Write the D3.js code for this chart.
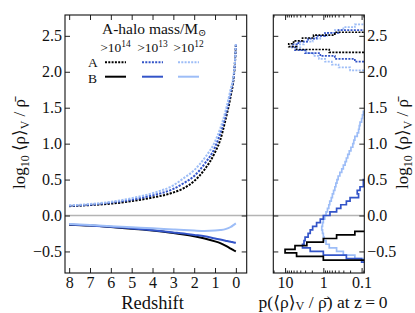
<!DOCTYPE html>
<html><head><meta charset="utf-8">
<script src="https://cdn.jsdelivr.net/npm/d3@7"></script>
<style>
html,body{margin:0;padding:0;background:#fff;}
svg{display:block;font-family:"Liberation Serif","DejaVu Serif",serif;}
</style></head><body>
<svg id="chart" width="415" height="313"></svg>
<script>
// ---------- data ----------
const redshift = [8,7,6,5,4,3,2.5,2,1.5,1,0.75,0.5,0.25,0.1,0.05,0];
// A-halo (dotted)
const aMass14 = [0.13,0.145,0.165,0.20,0.25,0.32,0.38,0.48,0.64,0.88,1.05,1.33,1.66,1.93,2.10,2.37];
const aMass13 = [0.135,0.15,0.18,0.22,0.28,0.37,0.45,0.55,0.72,0.95,1.14,1.39,1.71,1.95,2.11,2.38];
const aMass12 = [0.14,0.16,0.19,0.24,0.31,0.42,0.52,0.63,0.80,1.03,1.21,1.45,1.76,1.97,2.12,2.40];
// B-halo (solid)
const bMass14 = [-0.128,-0.14,-0.16,-0.185,-0.21,-0.245,-0.265,-0.29,-0.32,-0.36,-0.385,-0.42,-0.46,-0.485,-0.493,-0.50];
const bMass13 = [-0.125,-0.14,-0.155,-0.18,-0.205,-0.235,-0.25,-0.27,-0.29,-0.32,-0.335,-0.35,-0.365,-0.375,-0.378,-0.38];
const bMass12 = [-0.118,-0.132,-0.148,-0.163,-0.178,-0.195,-0.203,-0.21,-0.215,-0.21,-0.203,-0.19,-0.16,-0.13,-0.12,-0.11];

// histograms at z=0 : bin start, bin width, densities
const histWidthA = 0.04;
const histStartA14 = 2.27, histStartA13 = 2.14, histStartA12 = 2.02;
const histA14 = [0.7,5,8,6,3.5,1.8,0.5];
const histA13 = [0.15,0.5,1.2,3.0,5.5,6.5,4.5,2.5,1.5,0.9,0.4];
const histA12 = [0.2,0.4,0.6,0.9,1.3,1.8,2.8,4.0,5.0,3.2,1.9,1.2,0.8,0.5,0.3,0.15];
const histWidthB = 0.05;
const histStartB14 = -0.62, histStartB13 = -0.65, histStartB12 = -0.65;
const histB14 = [1.0,5,10,5.5,2.7,1.0,0.45,0.15];
const histB13 = [0.1,0.25,1.0,2.2,3.5,3.2,3.0,2.5,2.2,1.9,1.5,1.2,1.0,0.67,0.45,0.35,0.25,0.2,0.12,0.13,0.11,0.09,0.09];
const histB12 = [0.09,0.15,0.3,0.45,0.7,0.85,0.95,1.0,1.05,1.1,1.05,1.0,0.92,0.85,0.78,0.72,0.68,0.62,0.58,0.54,0.5,0.47,0.44,0.41,0.37,0.33,0.3,0.27,0.25,0.23,0.21,0.19,0.17,0.16,0.15,0.13,0.12,0.115,0.11,0.1,0.095,0.09];

const massExponents = ["14","13","12"];
const seriesColors = ["#000000","#3354c8","#9dbdf7"];
const yTicks = [-0.5,0,0.5,1,1.5,2,2.5];
const zTicks = [8,7,6,5,4,3,2,1,0];
const pTicks = [10,1,0.1];
const pTickLabels = ["10","1","0.1"];

// ---------- layout ----------
const svg = d3.select("#chart");
const L = {x0:65, x1:246.7, y0:15, y1:273};
const R = {x0:273.3, x1:364.3, y0:15, y1:273};

const yS = d3.scaleLinear().domain([-0.8, 2.79]).range([L.y1, L.y0]);
const xL = d3.scaleLinear().domain([8.2, -0.52]).range([L.x0, L.x1]);
const xR = d3.scaleLog().domain([20.3, 0.085]).range([R.x0, R.x1]);

const defs = svg.append("defs");
defs.append("clipPath").attr("id","clipL").append("rect")
  .attr("x",L.x0).attr("y",L.y0).attr("width",L.x1-L.x0).attr("height",L.y1-L.y0);
defs.append("clipPath").attr("id","clipR").append("rect")
  .attr("x",R.x0).attr("y",R.y0).attr("width",R.x1-R.x0).attr("height",R.y1-R.y0);

// zero line
svg.append("line").attr("x1",L.x0).attr("x2",R.x1).attr("y1",yS(0)).attr("y2",yS(0))
  .attr("stroke","#b4b4b4").attr("stroke-width",1.6);

// ---------- left panel curves ----------
const gL = svg.append("g").attr("clip-path","url(#clipL)");
const line = d3.line().x((d,i)=>xL(redshift[i])).y(d=>yS(d)).curve(d3.curveMonotoneX);
const aSeries = [aMass14,aMass13,aMass12];
const bSeries = [bMass14,bMass13,bMass12];
bSeries.forEach((s,k)=>{
  gL.append("path").attr("d",line(s)).attr("fill","none")
    .attr("stroke",seriesColors[k]).attr("stroke-width",2);
});
aSeries.forEach((s,k)=>{
  gL.append("path").attr("d",line(s)).attr("fill","none")
    .attr("stroke",seriesColors[k]).attr("stroke-width",2).attr("stroke-dasharray","2.2,1.3");
});

// ---------- right panel histograms ----------
const gR = svg.append("g").attr("clip-path","url(#clipR)");
function histPath(start, w, vals){
  const xr = R.x1 + 3;
  const px = p => p > 0 ? Math.min(xR(p), xr) : xr;
  const pts = [[xr, yS(start)]];
  vals.forEach((p,i)=>{
    pts.push([px(p), yS(start + i*w)]);
    pts.push([px(p), yS(start + (i+1)*w)]);
  });
  pts.push([xr, yS(start + vals.length*w)]);
  return d3.line()(pts);
}
const histB = [[histStartB14,histB14],[histStartB13,histB13],[histStartB12,histB12]];
const histA = [[histStartA14,histA14],[histStartA13,histA13],[histStartA12,histA12]];
[2,1,0].forEach(k=>{
  gR.append("path").attr("d",histPath(histB[k][0],histWidthB,histB[k][1]))
    .attr("fill","none").attr("stroke",seriesColors[k]).attr("stroke-width",1.7);
});
[2,1,0].forEach(k=>{
  gR.append("path").attr("d",histPath(histA[k][0],histWidthA,histA[k][1]))
    .attr("fill","none").attr("stroke",seriesColors[k]).attr("stroke-width",1.7)
    .attr("stroke-dasharray","2,1.3");
});

// ---------- axes ----------
const fmt = d3.format(".1f");
function styleAxis(g, labels){
  g.select(".domain").remove();
  g.selectAll(".tick line").attr("stroke","#222").attr("stroke-width",1);
  g.selectAll("text").attr("font-size",16).attr("fill","#111")
    .attr("font-family",'"Liberation Serif",serif');
  if(!labels) g.selectAll("text").remove();
}
// left panel
svg.append("g").attr("transform",`translate(${L.x0},0)`)
  .call(d3.axisLeft(yS).tickValues(yTicks).tickSize(-5).tickPadding(3).tickFormat(fmt))
  .call(g=>styleAxis(g,true));
svg.append("g").attr("transform",`translate(${L.x1},0)`)
  .call(d3.axisRight(yS).tickValues(yTicks).tickSize(-5)).call(g=>styleAxis(g,false));
svg.append("g").attr("transform",`translate(0,${L.y1})`)
  .call(d3.axisBottom(xL).tickValues(zTicks).tickSize(-5).tickPadding(4).tickFormat(d3.format("d")))
  .call(g=>styleAxis(g,true));
svg.append("g").attr("transform",`translate(0,${L.y0})`)
  .call(d3.axisTop(xL).tickValues(zTicks).tickSize(-5)).call(g=>styleAxis(g,false));
// right panel
svg.append("g").attr("transform",`translate(${R.x0},0)`)
  .call(d3.axisLeft(yS).tickValues(yTicks).tickSize(-5)).call(g=>styleAxis(g,false));
svg.append("g").attr("transform",`translate(${R.x1},0)`)
  .call(d3.axisRight(yS).tickValues(yTicks).tickSize(-5).tickPadding(3).tickFormat(fmt))
  .call(g=>styleAxis(g,true));
const minorP = [];
[0.01,0.1,1,10].forEach(dec=>{ for(let m=2;m<=9;m++){ const v=m*dec; if(v>0.085 && v<20.3) minorP.push(v);} });
svg.append("g").attr("transform",`translate(0,${R.y1})`)
  .call(d3.axisBottom(xR).tickValues(pTicks).tickSize(-5).tickPadding(4).tickFormat((d,i)=>pTickLabels[i]))
  .call(g=>styleAxis(g,true));
svg.append("g").attr("transform",`translate(0,${R.y1})`)
  .call(d3.axisBottom(xR).tickValues(minorP).tickSize(-2.5)).call(g=>styleAxis(g,false));
svg.append("g").attr("transform",`translate(0,${R.y0})`)
  .call(d3.axisTop(xR).tickValues(pTicks).tickSize(-5)).call(g=>styleAxis(g,false));
svg.append("g").attr("transform",`translate(0,${R.y0})`)
  .call(d3.axisTop(xR).tickValues(minorP).tickSize(-2.5)).call(g=>styleAxis(g,false));

// frames
[L,R].forEach(P=>{
  svg.append("rect").attr("x",P.x0).attr("y",P.y0).attr("width",P.x1-P.x0).attr("height",P.y1-P.y0)
    .attr("fill","none").attr("stroke","#111").attr("stroke-width",1.1);
});

// ---------- axis labels ----------
function densityLabel(t){
  t.append("tspan").text("log");
  t.append("tspan").attr("font-size","70%").attr("dy",4).text("10");
  t.append("tspan").attr("dy",-4).text(" \u27E8\u03C1\u27E9");
  t.append("tspan").attr("font-size","70%").attr("dy",4).text("V");
  t.append("tspan").attr("dy",-4).text(" / \u03C1\u0304");
}
densityLabel(svg.append("text").attr("transform","translate(25,144) rotate(-90)")
  .attr("text-anchor","middle").attr("font-size",17).attr("fill","#111"));
densityLabel(svg.append("text").attr("transform","translate(408,144) rotate(-90)")
  .attr("text-anchor","middle").attr("font-size",17).attr("fill","#111"));

svg.append("text").attr("x",(xL(8)+xL(0))/2).attr("y",308.5).attr("text-anchor","middle")
  .attr("font-size",18.5).attr("fill","#111").text("Redshift");
const xt = svg.append("text").attr("x",323).attr("y",307.5).attr("text-anchor","middle")
  .attr("font-size",17.5).attr("fill","#111");
xt.append("tspan").text("p(\u27E8\u03C1\u27E9");
xt.append("tspan").attr("font-size","70%").attr("dy",2.5).text("V");
xt.append("tspan").attr("dy",-2.5).text(" / \u03C1\u0304) at z\u2009=\u20090");

// ---------- legend ----------
const lg = svg.append("g").attr("fill","#111");
const title = lg.append("text").attr("x",102).attr("y",33.5).attr("font-size",15.5);
title.append("tspan").text("A-halo mass/M");
title.append("tspan").attr("font-size","65%").attr("dy",2).text("\u2299");
const colX = [115.5, 152.5, 188.5];
massExponents.forEach((e,k)=>{
  const t = lg.append("text").attr("x",colX[k]).attr("y",51.5).attr("text-anchor","middle").attr("font-size",13.5);
  t.append("tspan").text(">10");
  t.append("tspan").attr("font-size","70%").attr("dy",-5).text(e);
});
lg.append("text").attr("x",88).attr("y",66.5).attr("font-size",13.5).text("A");
lg.append("text").attr("x",88).attr("y",82.5).attr("font-size",13.5).text("B");
colX.forEach((cx,k)=>{
  lg.append("line").attr("x1",cx-10.5).attr("x2",cx+10.5).attr("y1",62.3).attr("y2",62.3)
    .attr("stroke",seriesColors[k]).attr("stroke-width",2).attr("stroke-dasharray","2,1.3");
  lg.append("line").attr("x1",cx-10.5).attr("x2",cx+10.5).attr("y1",76.7).attr("y2",76.7)
    .attr("stroke",seriesColors[k]).attr("stroke-width",2);
});
</script>
</body></html>
